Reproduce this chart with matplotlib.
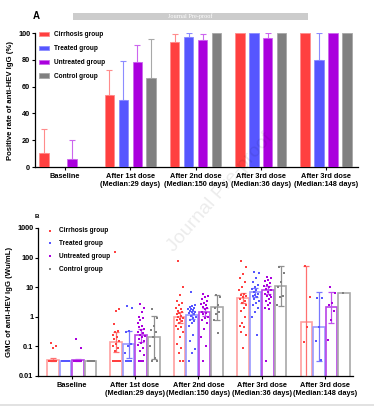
import numpy as np
import matplotlib.pyplot as plt
from matplotlib.patches import Rectangle

# groups / series
groups = ['Baseline', 'After 1st dose\n(Median:29 days)', 'After 2nd dose\n(Median:150 days)',
          'After 3rd dose\n(Median:36 days)', 'After 3rd dose\n(Median:148 days)']
series = ['Cirrhosis group', 'Treated group', 'Untreated group', 'Control group']
colors = ['#ff4040', '#5656ff', '#aa00dd', '#808080']
light = ['#ff8c8c', '#8c8cff', '#cc66ee', '#a8a8a8']

# Panel A: positive rate (%) and upper CI
rate_cirrhosis = [10.7, 53.6, 93.5, 100, 100]
rate_treated = [0, 50, 97, 100, 80]
rate_untreated = [6, 78.2, 94.5, 96.5, 100]
rate_control = [0, 66.7, 100, 100, 100]
upper_cirrhosis = [28.3, 72.7, 99.5, 100, 100]
upper_treated = [0, 79, 100, 100, 100]
upper_untreated = [20.3, 91, 99.5, 100, 100]
upper_control = [0, 95.8, 100, 100, 100]

# Panel B: GMC with 95% CI
gmc_cirrhosis = [0.035, 0.14, 0.95, 4.4, 0.65]
gmc_treated = [0.033, 0.117, 1.15, 6.7, 0.46]
gmc_untreated = [0.034, 0.24, 1.45, 8.0, 2.1]
gmc_control = [0.033, 0.2, 2.1, 11.2, 6.6]
lo_cirrhosis = [0.031, 0.065, 0.62, 2.9, 0.0095]
lo_treated = [0.033, 0.04, 0.85, 4.5, 0.032]
lo_untreated = [0.031, 0.14, 1.05, 5.8, 0.6]
lo_control = [0.033, 0.037, 0.75, 2.4, 6.6]
hi_cirrhosis = [0.041, 0.30, 1.45, 6.6, 52]
hi_treated = [0.033, 0.33, 1.55, 9.5, 6.8]
hi_untreated = [0.038, 0.38, 2.0, 11, 6.8]
hi_control = [0.033, 1.1, 5.5, 52, 6.6]

# individual titres, per group
pts_cirrhosis = [
    [0.13, 0.1, 0.085, 0.033, 0.033, 0.033, 0.033, 0.033, 0.033, 0.033, 0.033, 0.033, 0.033, 0.033],
    [150, 1.9, 1.6, 0.55, 0.32, 0.3, 0.25, 0.2, 0.18, 0.15, 0.12, 0.1, 0.09, 0.07,
     0.033, 0.033, 0.033, 0.033, 0.033, 0.033, 0.033, 0.033, 0.033, 0.033],
    [75, 10, 5.5, 3.5, 3.0, 2.5, 2.0, 1.8, 1.6, 1.5, 1.3, 1.2, 1.1, 1.0, 0.9, 0.85, 0.8,
     0.7, 0.6, 0.5, 0.45, 0.4, 0.3, 0.2, 0.12, 0.09, 0.06, 0.033, 0.033],
    [75, 50, 28, 20, 15, 10, 8, 6, 5.5, 5, 4.5, 4, 3.5, 3, 2.5, 2, 1.6, 1.0, 0.6, 0.5,
     0.45, 0.3, 0.25, 0.09],
    [52, 4.5, 0.45, 0.14],
]
pts_treated = [
    [0.033, 0.033, 0.033, 0.033, 0.033, 0.033, 0.033, 0.033, 0.033, 0.033],
    [2.4, 2.0, 0.33, 0.3, 0.12, 0.1, 0.06, 0.033, 0.033, 0.033, 0.033, 0.033, 0.033, 0.033],
    [7, 2.6, 2.4, 2.2, 2.0, 1.9, 1.8, 1.7, 1.6, 1.5, 1.4, 1.3, 1.2, 1.1, 1.0, 0.9, 0.8,
     0.7, 0.6, 0.5, 0.25, 0.15, 0.08, 0.06, 0.033],
    [32, 30, 20, 15, 12, 10, 9, 8, 7, 6, 5.5, 5, 4.5, 4, 3.5, 3, 2.5, 2, 1.5, 1.0, 0.25],
    [4.4, 4.3, 0.45, 0.15, 0.035],
]
pts_untreated = [
    [0.18, 0.085, 0.033, 0.033, 0.033, 0.033, 0.033, 0.033, 0.033, 0.033],
    [2.8, 2.0, 1.5, 1.0, 0.9, 0.75, 0.6, 0.5, 0.45, 0.4, 0.35, 0.3, 0.28, 0.25, 0.22,
     0.2, 0.18, 0.15, 0.13, 0.11, 0.09, 0.07, 0.05, 0.033, 0.033, 0.033],
    [6, 5, 4.5, 4, 3.5, 3, 2.8, 2.5, 2.2, 2.0, 1.8, 1.5, 1.3, 1.2, 1.0, 0.9, 0.8, 0.6,
     0.4, 0.2, 0.1, 0.033],
    [22, 20, 18, 16, 14, 12, 11, 10, 9, 8, 7, 6, 5.5, 5, 4.5, 4, 3.5, 3, 2.5, 2, 1.8, 0.033],
    [10.5, 6.5, 3, 2.5, 1.6, 0.8, 0.17],
]
pts_control = [
    [0.033, 0.033, 0.033, 0.033, 0.033, 0.033],
    [1.8, 0.9, 0.5, 0.35, 0.3, 0.2, 0.1, 0.04, 0.033, 0.033],
    [5.5, 4.5, 2.5, 2.0, 1.5, 1.2, 0.8, 0.28],
    [50, 30, 15, 10, 5, 4.5, 2.5],
    [6.6],
]

plt.rcParams['font.family'] = 'Liberation Sans'
plt.rcParams['font.weight'] = 'bold'

fig = plt.figure(figsize=(3.74, 4.08), dpi=100)

###### Panel A
axA = fig.add_axes([35/374, 1 - 167/408, 323/374, 134/408])
rates = [rate_cirrhosis, rate_treated, rate_untreated, rate_control]
uppers = [upper_cirrhosis, upper_treated, upper_untreated, upper_control]
x = np.arange(len(groups))
wA = 0.145
stepA = 0.214
for k in range(4):
    xs = x + (k - 1.5) * stepA
    axA.bar(xs, rates[k], width=wA, color=colors[k], edgecolor=light[k], linewidth=0.6,
            label=series[k], zorder=3)
    for j in range(len(groups)):
        if uppers[k][j] > rates[k][j]:
            axA.errorbar(xs[j], rates[k][j], yerr=[[0], [uppers[k][j] - rates[k][j]]],
                         color=light[k], capsize=2, elinewidth=0.8, capthick=0.8, zorder=2)
axA.set_xlim(-0.46, 4.49)
axA.set_ylim(0, 100)
axA.set_yticks([0, 20, 40, 60, 80, 100])
axA.set_xticks(x)
axA.set_xticklabels(groups, fontsize=5.3, fontweight='bold')
axA.tick_params(axis='y', labelsize=5.3, length=2, width=0.8, pad=1.5)
axA.tick_params(axis='x', length=2, width=0.8, pad=2)
for s in ['top', 'right']:
    axA.spines[s].set_visible(False)
for s in ['left', 'bottom']:
    axA.spines[s].set_linewidth(0.9)
axA.set_ylabel('Positive rate of anti-HEV IgG (%)', fontsize=5.6, fontweight='bold', labelpad=3)
axA.legend(loc='upper left', bbox_to_anchor=(38/374, 1 - 30/408), bbox_transform=fig.transFigure,
           frameon=False, fontsize=4.7, handlelength=1.45, handleheight=0.65,
           handletextpad=0.8, labelspacing=1.05, borderaxespad=0, borderpad=0.2)

###### Panel B
axB = fig.add_axes([38/374, 1 - 376/408, 315/374, 148/408])
gmcs = [gmc_cirrhosis, gmc_treated, gmc_untreated, gmc_control]
los = [lo_cirrhosis, lo_treated, lo_untreated, lo_control]
his = [hi_cirrhosis, hi_treated, hi_untreated, hi_control]
pts = [pts_cirrhosis, pts_treated, pts_untreated, pts_control]
edgeB = ['#ffa0a0', '#9a9aff', '#b844e6', '#a8a8a8']
errB = ['#ff7070', '#7878ff', '#c050ee', '#909090']
wB = 0.198
for k in range(4):
    xs = x + (k - 1.5) * wB
    axB.bar(xs, np.array(gmcs[k]) - 0.005, bottom=0.005, width=wB * 0.92, facecolor='none',
            edgecolor=edgeB[k], linewidth=1.2, zorder=2)
    for j in range(len(groups)):
        vals = pts[k][j]
        offs = [((i * 0.618 + 0.31) % 1 - 0.5) * 0.6 * wB for i in range(len(vals))]
        axB.scatter(xs[j] + np.array(offs), vals, s=2.2, marker='s', color=colors[k],
                    linewidths=0, zorder=4,
                    label=series[k] if j == 0 else None)
        if his[k][j] > los[k][j]:
            axB.errorbar(xs[j], gmcs[k][j],
                         yerr=[[gmcs[k][j] - los[k][j]], [his[k][j] - gmcs[k][j]]],
                         color=errB[k], capsize=2.5, elinewidth=0.9, capthick=0.9, zorder=3)
axB.set_yscale('log')
axB.set_ylim(0.01, 1000)
axB.set_xlim(-0.53, 4.44)
axB.set_yticks([0.01, 0.1, 1, 10, 100, 1000])
axB.set_yticklabels(['0.01', '0.1', '1', '10', '100', '1000'])
axB.minorticks_off()
axB.set_xticks(x)
axB.set_xticklabels(groups, fontsize=5.3, fontweight='bold')
axB.tick_params(axis='y', labelsize=5.3, length=2, width=0.8, pad=1.5)
axB.tick_params(axis='x', length=2, width=0.8, pad=2)
for s in ['top', 'right']:
    axB.spines[s].set_visible(False)
for s in ['left', 'bottom']:
    axB.spines[s].set_linewidth(0.9)
axB.set_ylabel('GMC of anti-HEV IgG (Wu/mL)', fontsize=5.6, fontweight='bold', labelpad=3)
axB.legend(loc='upper left', bbox_to_anchor=(45/374, 1 - 226/408), bbox_transform=fig.transFigure,
           frameon=False, fontsize=4.7, markerscale=1.3, handlelength=1.0,
           handletextpad=0.95, labelspacing=0.9, borderaxespad=0, borderpad=0.2)

# panel letters, banner, watermark
fig.text(33/374, 1 - 16/408, 'A', fontsize=7, fontweight='bold', va='center')
fig.text(35/374, 1 - 216/408, 'B', fontsize=4.5, fontweight='bold', va='center')
fig.patches.append(Rectangle((73/374, 1 - 20/408), 235/374, 7/408, transform=fig.transFigure,
                             facecolor='#cccccc', edgecolor='none'))
fig.text(190/374, 1 - 16.5/408, 'Journal Pre-proof', fontsize=4.5, color='white',
         family='Liberation Serif', fontweight='normal', ha='center', va='center')
fig.text(220/374, 1 - 192/408, 'Journal Pre-proof', fontsize=14, color='black', alpha=0.08,
         rotation=49, ha='center', va='center', fontweight='normal', zorder=10)
fig.add_artist(plt.Line2D([0, 1], [1 - 405/408, 1 - 405/408], color='#dddddd', linewidth=1.2))

fig.savefig('out.png', dpi=100)
